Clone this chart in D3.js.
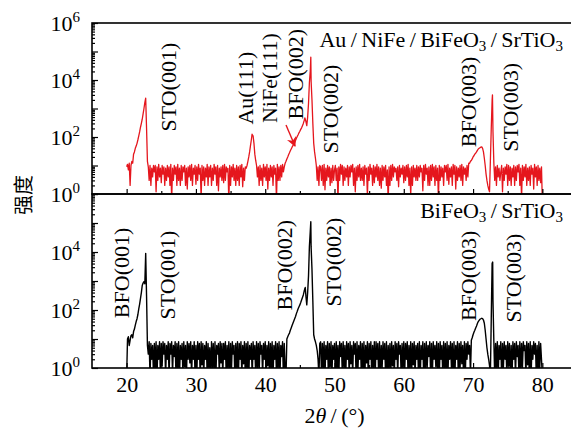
<!DOCTYPE html>
<html>
<head>
<meta charset="utf-8">
<script src="https://cdnjs.cloudflare.com/ajax/libs/d3/7.8.5/d3.min.js"></script>
<style>
  body { margin: 0; background: #fff; }
  svg { display: block; }
</style>
</head>
<body>
<div id="chart"></div>
<script>
// scan grid: 2theta from 20 to 80 deg, one count every 0.125 deg (16 values per row = 2 deg)
var thetaStart = 20, thetaStep = 0.125;

// Au/NiFe/BiFeO3/SrTiO3 (top, red)
var redCounts = [
  9, 11, 7, 12, 2, 10, 14, 12, 25, 30, 40, 48, 60, 80, 110, 150,                 // 20
  220, 300, 420, 650, 1000, 1600, 2300, 200, 14, 9, 3, 10, 2, 8, 4, 10,          // 22
  6, 10, 1.2, 9, 3, 11, 4, 8, 2.5, 10, 5, 9, 2, 8, 3, 10,                        // 24
  4, 9, 2, 11, 0.6, 8, 3, 10, 5, 9, 2, 11, 3, 8, 2, 10,                          // 26
  3, 9, 6, 10, 2, 8, 1.5, 9, 4, 10, 3, 11, 2, 8, 5, 10,                          // 28
  2.2, 9, 3, 11, 5, 8, 0.7, 10, 3, 9, 2, 8, 4, 11, 2, 9,                         // 30
  4, 10, 2, 8, 3, 11, 5, 9, 2, 10, 1.3, 8, 4, 9, 3, 10,                          // 32
  2.5, 11, 3, 9, 6, 8, 0.5, 10, 2, 9, 4, 11, 3, 8, 2, 10,                        // 34
  3, 9, 2, 10, 4, 11, 1.8, 8, 3, 9, 8, 10, 14, 20, 30, 50,                       // 36
  80, 120, 110, 60, 25, 15, 10, 4, 9, 2, 10, 3, 8, 2, 11, 4,                     // 38
  9, 3, 11, 1.5, 8, 3, 10, 4, 9, 2, 10, 5, 8, 0.6, 11, 3,                        // 40
  9, 3, 10, 4, 11, 6, 9, 12, 14, 17, 20, 24, 28, 33, 38, 44,                     // 42
  50, 57, 65, 75, 90, 105, 120, 140, 160, 185, 210, 250, 300, 380, 450, 350,     // 44
  250, 500, 1500, 8000, 20000, 9000, 2000, 300, 60, 30, 18, 10, 3, 9, 2, 10,     // 46
  9, 3, 10, 2, 11, 1.4, 8, 3, 10, 4, 9, 2, 8, 2.5, 10, 3,                        // 48
  7, 10, 3, 8, 0.6, 9, 3, 11, 5, 10, 2, 9, 3, 8, 4, 10,                          // 50
  2, 9, 4, 10, 6, 11, 2, 8, 1.2, 9, 3, 10, 4, 11, 3, 8,                          // 52
  3, 9, 2, 10, 5, 8, 0.8, 9, 3, 11, 5, 8, 2, 10, 2.5, 9,                         // 54
  4, 11, 3, 9, 2, 8, 1.6, 10, 3, 9, 4, 10, 2, 7, 0.5, 9,                         // 56
  2, 10, 3, 11, 4, 9, 6, 8, 3, 9, 1.8, 10, 4, 8, 5, 10,                          // 58
  2.5, 9, 3, 10, 4, 11, 2, 8, 0.9, 9, 2, 10, 4, 8, 3, 10,                        // 60
  3, 9, 4, 10, 6, 8, 1.3, 10, 3, 11, 5, 8, 2, 9, 2, 10,                          // 62
  3, 11, 4, 9, 2, 10, 3, 8, 0.6, 10, 3, 9, 4, 8, 2, 10,                          // 64
  6, 10, 3, 11, 2.2, 8, 4, 9, 2, 11, 5, 10, 1.5, 9, 3, 8,                        // 66
  4, 10, 3, 11, 2, 9, 5, 8, 3, 10, 4, 12, 12, 14, 15, 17,                        // 68
  20, 22, 25, 27, 30, 34, 38, 40, 42, 44, 45, 40, 30, 18, 10, 5,                 // 70
  3, 2, 1.5, 1.2, 15, 200, 2000, 150, 12, 3, 9, 2, 10, 4, 8, 3,                  // 72
  6, 10, 1.2, 8, 3, 9, 5, 11, 2, 10, 3, 9, 2, 8, 4, 10,                          // 74
  2, 9, 3, 10, 6, 11, 2, 8, 0.7, 10, 3, 9, 4, 11, 2, 8,                          // 76
  3, 9, 2, 10, 5, 8, 1.5, 11, 4, 9, 2, 10, 3, 8, 2.5, 9,                         // 78
  0.5                                                                            // 80
];
// peak tops that fall between grid points [2theta, counts]
var redApex = [[38.1, 125], [45.72, 470], [46.58, 63000], [72.8, 3000]];

// BiFeO3/SrTiO3 (bottom, black)
var blackCounts = [
  0.5, 10, 12, 6, 9, 13, 14, 11, 18, 22, 30, 40, 50, 70, 110, 160,               // 20
  250, 400, 700, 850, 950, 800, 9000, 300, 6, 3, 8, 0.5, 7, 2, 6, 0.5,           // 22
  7, 1, 8, 0.4, 6, 2, 8, 0.6, 7, 1.2, 8, 3, 7, 0.5, 6, 2,                        // 24
  8, 0.5, 7, 3, 8, 0.6, 6, 2.5, 8, 0.5, 7, 1, 8, 0.4, 6, 2,                      // 26
  7, 0.5, 8, 1.1, 6, 0.4, 8, 2, 7, 1.5, 8, 0.5, 6, 2, 8, 0.5,                    // 28
  6, 0.5, 8, 2, 7, 0.4, 8, 1.3, 7, 0.5, 6, 2, 8, 0.5, 7, 1,                      // 30
  5, 0.5, 8, 1, 7, 0.5, 8, 0.4, 6, 3, 7, 0.6, 8, 1.5, 7, 0.5,                    // 32
  7, 2, 8, 0.5, 6, 1, 8, 0.5, 7, 0.7, 8, 3, 6, 0.4, 7, 1,                        // 34
  8, 0.4, 7, 2, 8, 0.5, 6, 1.4, 8, 0.5, 7, 1, 8, 0.4, 6, 2,                      // 36
  7, 0.4, 8, 2, 6, 0.5, 8, 1, 7, 0.6, 8, 3, 6, 0.5, 7, 2,                        // 38
  8, 0.5, 6, 1.2, 8, 0.5, 7, 1, 8, 0.4, 6, 2, 8, 0.5, 7, 1,                      // 40
  8, 0.5, 6, 2.5, 8, 0.5, 7, 1, 0.5, 10, 12, 14, 16, 20, 24, 29,                 // 42
  35, 42, 50, 60, 75, 90, 110, 130, 150, 180, 220, 270, 330, 450, 560, 300,      // 44
  150, 400, 1500, 15000, 50000, 15000, 2500, 200, 14, 10, 8, 6, 4, 2, 0.5, 7,    // 46
  8, 0.5, 7, 1, 8, 0.5, 6, 2, 8, 0.4, 7, 1.1, 8, 0.5, 6, 2,                      // 48
  7, 0.4, 8, 1, 6, 0.5, 8, 2.5, 7, 0.6, 8, 1, 6, 0.5, 8, 2,                      // 50
  7, 0.5, 8, 1.4, 6, 0.5, 8, 3, 7, 0.4, 8, 0.7, 6, 2, 8, 0.5,                    // 52
  7, 1, 8, 0.4, 6, 1.5, 8, 0.5, 7, 2, 8, 0.5, 6, 1, 8, 0.5,                      // 54
  8, 2, 7, 0.5, 8, 0.6, 6, 1, 8, 2, 7, 0.5, 8, 0.4, 6, 1,                        // 56
  7, 0.5, 8, 1.2, 6, 0.4, 8, 2, 7, 0.5, 8, 3, 6, 0.5, 7, 1,                      // 58
  8, 0.6, 7, 2, 8, 0.5, 6, 1, 8, 0.5, 7, 1.3, 8, 0.5, 6, 2,                      // 60
  7, 0.5, 8, 0.4, 6, 2, 8, 0.4, 7, 0.7, 8, 1, 6, 2.5, 8, 0.5,                    // 62
  7, 0.5, 8, 2, 6, 1.1, 8, 0.5, 7, 0.4, 8, 2, 6, 0.5, 8, 1,                      // 64
  7, 0.5, 8, 0.6, 6, 2, 8, 1, 7, 0.4, 8, 0.5, 6, 2, 8, 0.5,                      // 66
  7, 1, 8, 1.4, 6, 0.5, 8, 0.5, 7, 2, 8, 3, 6, 0.6, 9, 11,                       // 68
  14, 17, 20, 24, 28, 34, 40, 44, 48, 50, 52, 50, 45, 35, 20, 10,                // 70
  5, 3, 2, 1.2, 0.6, 50, 4000, 200, 8, 0.5, 7, 1, 8, 0.5, 6, 2,                  // 72
  8, 0.4, 7, 1, 8, 2, 6, 0.5, 8, 1.2, 7, 0.4, 6, 0.5, 8, 2,                      // 74
  7, 0.5, 8, 2.5, 6, 0.5, 8, 0.6, 7, 1, 8, 4, 6, 0.5, 8, 1.3,                    // 76
  7, 0.4, 8, 0.5, 6, 2, 8, 3, 7, 0.5, 6, 0.4, 8, 1, 7, 2,                        // 78
  0.5                                                                            // 80
];
var blackApex = [[45.78, 600], [46.58, 110000], [72.83, 4500]];

// peak names with the point (2theta, counts) their rotated text is centred on
var topPeaks = [
  ["STO(001)", 26.0, 5600], ["Au(111)", 37.2, 5200], ["NiFe(111)", 40.6, 11700],
  ["BFO(002)", 44.3, 16000], ["STO(002)", 49.4, 950], ["BFO(003)", 69.3, 1700],
  ["STO(003)", 75.4, 1100]
];
var bottomPeaks = [
  ["BFO(001)", 19.2, 1900], ["STO(001)", 25.9, 1600], ["BFO(002)", 42.8, 3500],
  ["STO(002)", 49.8, 4500], ["BFO(003)", 69.3, 1500], ["STO(003)", 75.8, 1250]
];
// arrow to the BFO(002) shoulder, from / to in (2theta, counts)
var arrowPoints = [[43.0, 263], [44.3, 48]];

var topTitle = [["Au\u2009/\u2009NiFe\u2009/\u2009BiFeO", 0], ["3", 1], ["\u2009/\u2009SrTiO", 0], ["3", 1]];
var bottomTitle = [["BiFeO", 0], ["3", 1], ["\u2009/\u2009SrTiO", 0], ["3", 1]];

var xTicks = [20, 30, 40, 50, 60, 70, 80];
var xMinorTicks = [25, 35, 45, 55, 65, 75];
var decades = [1, 10, 100, 1e3, 1e4, 1e5, 1e6];
var topYLabels = [0, 2, 4, 6];
var bottomYLabels = [0, 2, 4];

var serif = "'Liberation Serif', 'Times New Roman', serif";
var red = "#e5161d";

var svg = d3.select("#chart").append("svg")
  .attr("width", 571)
  .attr("height", 428);

// right edge of the frames sits just past the window, like the original crop
var x = d3.scaleLinear().domain([15, 85]).range([92, 577]);
var yTop = d3.scaleLog().domain([1, 1e6]).range([194, 23]);
var yBottom = d3.scaleLog().domain([1, 1e6]).range([368, 194]);

var minorDecades = [];
for (var d = 0; d < 6; d++)
  for (var m = 2; m < 10; m++) minorDecades.push(m * Math.pow(10, d));

function scan(counts, apex) {
  var pts = counts.map(function(v, i) { return [thetaStart + i * thetaStep, v]; });
  return pts.concat(apex).sort(function(a, b) { return a[0] - b[0]; });
}

function styleAxis(g) {
  g.select(".domain").remove();
  g.selectAll(".tick line").attr("stroke", "#000").attr("stroke-width", 1.2);
  g.attr("font-family", serif).attr("font-size", 22);
}

function drawPanel(id, y, counts, apex, colour, lineWidth, peaks, title, yLabels, showX, titleY) {
  var top = y.range()[1], bottom = y.range()[0];

  svg.append("clipPath").attr("id", id)
    .append("rect")
    .attr("x", 92).attr("y", top)
    .attr("width", 577 - 92).attr("height", bottom - top);

  var line = d3.line()
    .x(function(d) { return x(d[0]); })
    .y(function(d) { return y(d[1]); });

  svg.append("path")
    .datum(scan(counts, apex))
    .attr("clip-path", "url(#" + id + ")")
    .attr("fill", "none")
    .attr("stroke", colour)
    .attr("stroke-width", lineWidth)
    .attr("stroke-linejoin", "round")
    .attr("d", line);

  // x ticks, inward
  svg.append("g")
    .attr("transform", "translate(0," + bottom + ")")
    .call(d3.axisBottom(x).tickValues(xTicks).tickSize(-5).tickPadding(8)
      .tickFormat(showX ? d3.format("d") : function() { return ""; }))
    .call(styleAxis);
  svg.append("g")
    .attr("transform", "translate(0," + bottom + ")")
    .call(d3.axisBottom(x).tickValues(xMinorTicks).tickSize(-3).tickFormat(function() { return ""; }))
    .call(styleAxis);

  // y ticks, inward
  svg.append("g")
    .attr("transform", "translate(92,0)")
    .call(d3.axisLeft(y).tickValues(decades).tickSize(-6).tickFormat(function() { return ""; }))
    .call(styleAxis);
  svg.append("g")
    .attr("transform", "translate(92,0)")
    .call(d3.axisLeft(y).tickValues(minorDecades).tickSize(-3).tickFormat(function() { return ""; }))
    .call(styleAxis);

  // y labels 10^n
  var yl = svg.append("g").attr("font-family", serif).attr("font-size", 22).attr("text-anchor", "end");
  yLabels.forEach(function(p) {
    var t = yl.append("text")
      .attr("x", 80)
      .attr("y", y(Math.pow(10, p)))
      .attr("dy", "0.35em");
    t.append("tspan").text("10");
    t.append("tspan").attr("font-size", 15).attr("dy", "-0.55em").text(p);
  });

  // frame
  svg.append("rect")
    .attr("x", 92).attr("y", top)
    .attr("width", 577 - 92).attr("height", bottom - top)
    .attr("fill", "none")
    .attr("stroke", "#000")
    .attr("stroke-width", 1.6);

  // peak names
  svg.append("g")
    .attr("font-family", serif)
    .attr("font-size", 22)
    .selectAll("text")
    .data(peaks)
    .enter().append("text")
    .attr("text-anchor", "middle")
    .attr("dominant-baseline", "central")
    .attr("transform", function(d) {
      return "translate(" + x(d[1]) + "," + y(d[2]) + ") rotate(-90)";
    })
    .text(function(d) { return d[0]; });

  // sample name
  var tt = svg.append("text")
    .attr("x", 563)
    .attr("y", titleY)
    .attr("text-anchor", "end")
    .attr("font-family", serif)
    .attr("font-size", 22);
  title.forEach(function(part) {
    var s = tt.append("tspan").text(part[0]);
    if (part[1]) s.attr("font-size", 15).attr("dy", 4);
    else s.attr("dy", tt.selectAll("tspan").size() > 1 ? -4 : 0);
  });
}

drawPanel("clip-top", yTop, redCounts, redApex, red, 1.3, topPeaks, topTitle, topYLabels, false, 47);
drawPanel("clip-bottom", yBottom, blackCounts, blackApex, "#000", 1.4, bottomPeaks, bottomTitle, bottomYLabels, true, 218);

// arrow in the top panel
svg.append("defs").append("marker")
  .attr("id", "head")
  .attr("viewBox", "0 0 10 10")
  .attr("refX", 9).attr("refY", 5)
  .attr("markerWidth", 7).attr("markerHeight", 7)
  .attr("orient", "auto")
  .append("path")
  .attr("d", "M0,0L10,5L0,10L3,5Z")
  .attr("fill", red);

svg.append("line")
  .attr("x1", x(arrowPoints[0][0])).attr("y1", yTop(arrowPoints[0][1]))
  .attr("x2", x(arrowPoints[1][0])).attr("y2", yTop(arrowPoints[1][1]))
  .attr("stroke", red)
  .attr("stroke-width", 1.4)
  .attr("marker-end", "url(#head)");

// axis titles
var xt = svg.append("text")
  .attr("x", (92 + 577) / 2)
  .attr("y", 423)
  .attr("text-anchor", "middle")
  .attr("font-family", serif)
  .attr("font-size", 22);
xt.append("tspan").text("2");
xt.append("tspan").attr("font-style", "italic").text("\u03b8");
xt.append("tspan").text("\u2009/\u2009(\u00b0)");

svg.append("text")
  .attr("transform", "translate(22,195) rotate(-90)")
  .attr("text-anchor", "middle")
  .attr("dominant-baseline", "central")
  .attr("font-family", "'Noto Sans CJK SC', sans-serif")
  .attr("font-size", 20)
  .text("强度");
</script>
</body>
</html>
